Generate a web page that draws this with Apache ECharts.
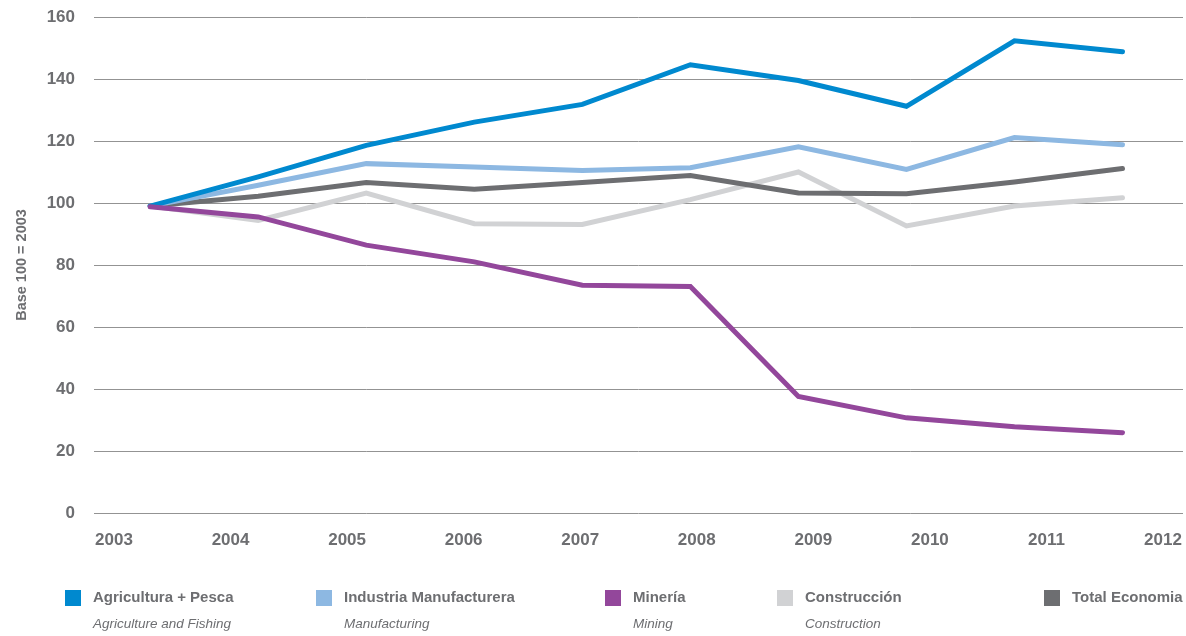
<!DOCTYPE html>
<html>
<head>
<meta charset="utf-8">
<script src="https://cdn.jsdelivr.net/npm/echarts@6/dist/echarts.min.js"></script>
<style>
  html, body { margin: 0; padding: 0; background: #fff; }
  #main { width: 1186px; height: 636px; }
</style>
</head>
<body>
<div id="main"></div>
<script>
// años (eje X)
const years = ['2003', '2004', '2005', '2006', '2007', '2008', '2009', '2010', '2011', '2012']
const yTicks = [0, 20, 40, 60, 80, 100, 120, 140, 160]

// series, base 100 = 2003
const agricultura = [99, 108.4, 118.6, 126.1, 131.8, 144.6, 139.5, 131.2, 152.3, 148.8]
const industria = [99, 105.7, 112.7, 111.6, 110.5, 111.4, 118.1, 110.8, 121.1, 118.8]
const mineria = [98.8, 95.5, 86.4, 81.0, 73.5, 73.1, 37.6, 30.7, 27.8, 25.9]
const construccion = [99, 94.4, 103.2, 93.3, 93.1, 101.1, 110.0, 92.6, 99.0, 101.7]
const totalEconomia = [99, 102.2, 106.6, 104.4, 106.6, 108.9, 103.2, 103.0, 106.8, 111.1]

const names = ['Agricultura + Pesca', 'Industria Manufacturera', 'Minería', 'Construcción', 'Total Economia']
const subNames = ['Agriculture and Fishing', 'Manufacturing', 'Mining', 'Construction', '']
const colors = ['#0089cf', '#8db8e2', '#93479b', '#d1d2d4', '#6d6e71']

const font = '"Liberation Sans", Arial, sans-serif'
const txtColor = '#6d6e71'

let myCharts = echarts.init(document.getElementById('main'))

// posiciones de la leyenda (x del cuadro)
const legendLeft = [65, 316, 605, 777, 1044]

let legends = names.map((n, i) => ({
  data: [n],
  left: legendLeft[i],
  top: 590,
  padding: 0,
  icon: 'rect',
  itemWidth: 16,
  itemHeight: 16,
  selectedMode: false,
  textStyle: {
    fontFamily: font,
    fontSize: 15,
    fontWeight: 'bold',
    color: txtColor,
    padding: [0, 0, 0, 7]
  }
}))

let subTexts = subNames.filter(s => s !== '').map((s, i) => ({
  type: 'text',
  left: legendLeft[i] + 28,
  top: 617,
  style: {
    text: s,
    font: 'italic 13.5px ' + font,
    fill: txtColor
  }
}))

function lineSeries(name, data, color) {
  return {
    name: name,
    type: 'line',
    data: data.map((v, i) => [Number(years[i]), v]),
    color: color,
    symbol: 'none',
    lineStyle: { width: 5, color: color, cap: 'round', join: 'miter' },
    animation: false
  }
}

let options = {
  backgroundColor: '#fff',
  grid: [
    { left: 94, right: 3, top: 17, bottom: 123 },
    { left: 114, right: 23, top: 17, bottom: 123 }   // solo para las etiquetas de años
  ],
  xAxis: [
    {
      type: 'value',
      gridIndex: 0,
      min: 2002.48,
      max: 2012.56,
      splitLine: { show: false },
      axisLine: { show: false },
      axisTick: { show: false },
      axisLabel: { show: false }
    },
    {
      type: 'category',
      gridIndex: 1,
      data: years,
      boundaryGap: false,
      axisLine: { show: false },
      axisTick: { show: false },
      axisLabel: {
        margin: 19,
        fontFamily: font,
        fontSize: 17,
        fontWeight: 'bold',
        color: txtColor
      }
    }
  ],
  yAxis: [
    {
      type: 'value',
      gridIndex: 0,
      min: yTicks[0],
      max: yTicks[yTicks.length - 1],
      interval: 20,
      name: 'Base 100 = 2003',
      nameLocation: 'middle',
      nameGap: 65,
      nameTextStyle: {
        fontFamily: font,
        fontSize: 14.5,
        fontWeight: 'bold',
        color: txtColor
      },
      axisLine: { show: false },
      axisTick: { show: false },
      axisLabel: {
        margin: 19,
        fontFamily: font,
        fontSize: 17,
        fontWeight: 'bold',
        color: txtColor
      },
      splitLine: { lineStyle: { color: '#939393', width: 1 } }
    },
    {
      type: 'value',
      gridIndex: 1,
      min: 0,
      max: 1,
      show: false
    }
  ],
  legend: legends,
  graphic: subTexts,
  series: [
    lineSeries(names[3], construccion, colors[3]),
    lineSeries(names[4], totalEconomia, colors[4]),
    lineSeries(names[1], industria, colors[1]),
    lineSeries(names[0], agricultura, colors[0]),
    lineSeries(names[2], mineria, colors[2])
  ]
}
myCharts.setOption(options)
</script>
</body>
</html>
